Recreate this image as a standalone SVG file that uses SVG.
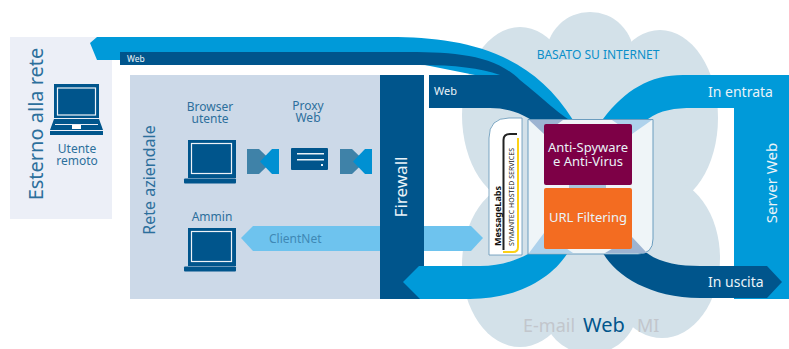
<svg xmlns="http://www.w3.org/2000/svg" width="789" height="349" viewBox="0 0 789 349">
<style>
text{font-family:"Noto Sans","Open Sans",sans-serif}
.lbl{fill:#2c6f9c;text-anchor:middle}
.wh{fill:#eaf3f8}
.dk{fill:#00558c}
.lt{fill:#009ad9}
</style>
<defs>
<g id="laptop">
<rect x="0" y="0" width="48" height="38" fill="#00558c"/>
<rect x="3.500" y="3.500" width="40" height="30" fill="none" stroke="#eef3f8" stroke-width="1.200"/>
<rect x="-4" y="38.500" width="52" height="5" rx="1" fill="#00558c"/>
</g>
<g id="bow">
<polygon points="0,0 12,0 25,12.500 12,25 0,25" fill="#3f82a8"/>
<polygon points="32,0 25,0 13,12.500 25,25 32,25" fill="#0090d2"/>
</g>
</defs>
<g id="cloud" fill="#d3e1e9">
<ellipse cx="520" cy="115" rx="58" ry="88"/>
<ellipse cx="660" cy="118" rx="58" ry="88"/>
<circle cx="590" cy="56" r="44"/>
<ellipse cx="520" cy="265" rx="58" ry="82"/>
<ellipse cx="662" cy="258" rx="58" ry="80"/>
<circle cx="590" cy="306" r="48"/>
<rect x="500" y="60" width="180" height="250"/>
</g>
<g id="esterno">
<rect x="10" y="37" width="102" height="182" fill="#eceff7"/>
<text class="lbl" font-size="20" transform="translate(43,124) rotate(-90)">Esterno alla rete</text>
<rect x="54" y="84" width="45" height="34" fill="#00558c"/>
<rect x="57.500" y="88" width="38" height="27" fill="none" stroke="#eef3f8" stroke-width="1.200"/>
<polygon points="54,119 99,119 103,130 50,130" fill="#00558c"/>
<rect x="55" y="124" width="43" height="1" fill="#eceff7"/>
<rect x="72" y="125" width="9" height="4" fill="#fff"/>
<rect x="50" y="131" width="53" height="4" fill="#00558c"/>
<text class="lbl" font-size="12"><tspan x="77" y="153">Utente</tspan><tspan x="77" y="165">remoto</tspan></text>
</g>
<g id="rete">
<rect x="130" y="75" width="250" height="224" fill="#ccd9e8"/>
<text class="lbl" font-size="16" transform="translate(155,180) rotate(-90)">Rete aziendale</text>
</g>
<g id="browser">
<text class="lbl" font-size="12"><tspan x="210" y="111">Browser</tspan><tspan x="210" y="123">utente</tspan></text>
<use href="#laptop" x="188" y="140"/>
</g>
<g id="proxy">
<text class="lbl" font-size="12"><tspan x="308" y="110">Proxy</tspan><tspan x="308" y="122">Web</tspan></text>
<rect x="291" y="148" width="37" height="22" rx="1" fill="#00558c"/>
<rect x="297" y="153" width="27" height="1.500" fill="#eaf3f8"/>
<rect x="297" y="159" width="27" height="1.500" fill="#eaf3f8"/>
<rect x="321" y="164" width="2" height="2" fill="#eaf3f8"/>
</g>
<g id="ammin">
<text class="lbl" font-size="12" x="212" y="221">Ammin</text>
<use href="#laptop" x="188" y="228"/>
</g>
<g id="connectors">
<use href="#bow" x="247" y="149"/>
<use href="#bow" x="340" y="149"/>
<polygon id="clientnet" points="241,238 253,226 471,226 483,238 471,251 253,251" fill="#6ec3ee"/>
<path class="lt" d="M90,43 L97,37 H390 C460,37 530,50 573,120 H540 L500,80 L400,60 H97 Z"/>
<path class="dk" d="M120,52 H380 C440,52 490,50 520,80 C545,100 560,115 573,122 L550,135 C530,115 510,108 490,108 H429 V75 H500 C480,68 455,65 420,65 H120 Z"/>
<path class="lt" d="M789,75 H683 C650,75 625,90 603,119 L632,140 L648,119 C660,110 675,108 693,108 H789 Z"/>
</g>
<g id="firewall">
<rect x="380" y="75" width="44" height="224" fill="#00558c"/>
<text class="wh" font-size="17" text-anchor="middle" transform="translate(407,187) rotate(-90)">Firewall</text>
</g>
<g id="server">
<rect x="734" y="75" width="55" height="224" fill="#009ad9"/>
<text class="wh" font-size="15" text-anchor="middle" transform="translate(777,183) rotate(-90)">Server Web</text>
</g>
<g id="bands">
<path class="lt" d="M403,282 L419,266 H480 C500,266 515,261 530,253 L567,254 C550,280 515,299 470,299 H420 Z"/>
<path class="dk" d="M603,253 C615,275 650,298 700,298 H767 L782,282 L767,266 H700 C680,266 660,263 647,253 Z"/>
<text class="wh" font-size="8.500" x="127" y="62">Web</text>
<text class="wh" font-size="11" x="434" y="95">Web</text>
<text class="wh" font-size="14" x="708" y="97">In entrata</text>
<text class="wh" font-size="14" x="708" y="287">In uscita</text>
</g>
<g id="logo">
<path d="M489,138 Q489,118 509,118 H522 V255 H489 Z" fill="#fff" stroke="#5f93b5" stroke-width="0.800"/>
<path d="M503.500,250 V140 Q503.500,134 510,134 H517" fill="none" stroke="#222" stroke-width="2"/>
<path d="M503,252 H513 Q518,252 518,247 V138" fill="none" stroke="#fcd116" stroke-width="2"/>
<text font-size="9" font-weight="700" fill="#111" transform="translate(501,246) rotate(-90)">MessageLabs</text>
<text font-size="7" fill="#222" transform="translate(514,246) rotate(-90)">SYMANTEC HOSTED SERVICES</text>
</g>
<g id="box">
<path d="M528,119.500 H653 V239 Q653,254 638,254 H528 Z" fill="#eff5f8" stroke="#6b9dbf"/>
<polygon points="529,120 563,120 544,134" fill="#9db4d2"/>
<polygon points="612,120 652,120 632,134" fill="#aed2ec"/>
<polygon points="529,253 573,253 544,233" fill="#aed2ec"/>
<polygon points="605,253 647,253 632,237" fill="#9db4d2"/>
<rect x="569" y="184" width="37" height="6" fill="#a9c6dc"/>
</g>
<g id="antispy">
<rect x="544" y="124" width="88" height="61" rx="2" fill="#7d0046"/>
<text class="wh" font-size="13" text-anchor="middle"><tspan x="588" y="152">Anti-Spyware</tspan><tspan x="588" y="166">e Anti-Virus</tspan></text>
</g>
<g id="url">
<rect x="544" y="188" width="88" height="61" rx="2" fill="#f36c21"/>
<text class="wh" font-size="13" x="588" y="222" text-anchor="middle">URL Filtering</text>
</g>
<text font-size="12" x="269" y="243" fill="#3f88b5">ClientNet</text>
<text font-size="12" x="598" y="59" text-anchor="middle" fill="#0a8fc9">BASATO SU INTERNET</text>
<text font-size="18" x="523" y="332" fill="#c2c6cc">E-mail</text>
<text font-size="20" x="583" y="332" fill="#00558c">Web</text>
<text font-size="18" x="637" y="332" fill="#c2c6cc">MI</text>
</svg>
